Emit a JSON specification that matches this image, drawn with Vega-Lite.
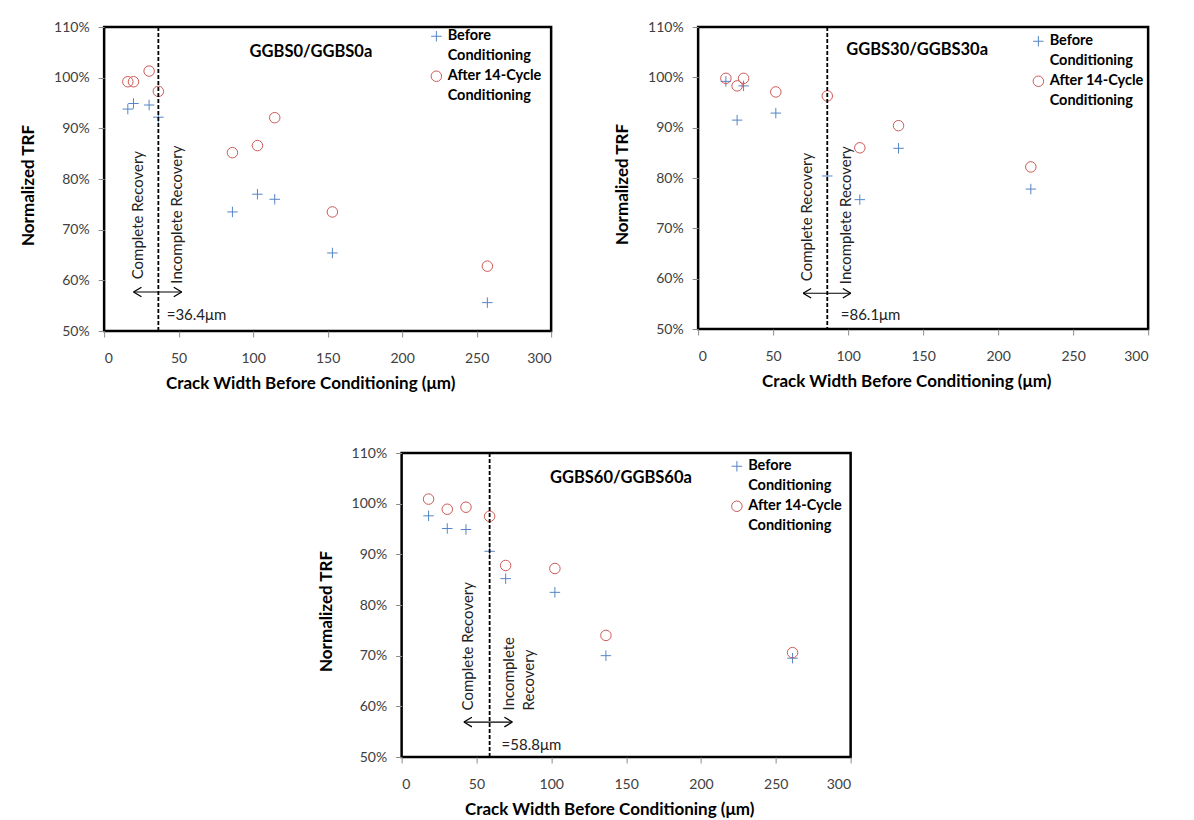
{
  "$schema": "https://vega.github.io/schema/vega-lite/v6.json",
  "padding": {"left": 18, "top": 18, "right": 5, "bottom": 0},
  "datasets": {
    "pts": [
      {"panel": "GGBS0", "series": "Before Conditioning", "w": 15.9, "trf": 0.938},
      {"panel": "GGBS0", "series": "Before Conditioning", "w": 19.7, "trf": 0.949},
      {"panel": "GGBS0", "series": "Before Conditioning", "w": 30.2, "trf": 0.946},
      {"panel": "GGBS0", "series": "Before Conditioning", "w": 36.4, "trf": 0.922},
      {"panel": "GGBS0", "series": "Before Conditioning", "w": 86.1, "trf": 0.735},
      {"panel": "GGBS0", "series": "Before Conditioning", "w": 102.9, "trf": 0.770},
      {"panel": "GGBS0", "series": "Before Conditioning", "w": 114.5, "trf": 0.760},
      {"panel": "GGBS0", "series": "Before Conditioning", "w": 153.2, "trf": 0.654},
      {"panel": "GGBS0", "series": "Before Conditioning", "w": 257.2, "trf": 0.556},
      {"panel": "GGBS0", "series": "After 14-Cycle Conditioning", "w": 15.9, "trf": 0.992},
      {"panel": "GGBS0", "series": "After 14-Cycle Conditioning", "w": 19.7, "trf": 0.992},
      {"panel": "GGBS0", "series": "After 14-Cycle Conditioning", "w": 30.2, "trf": 1.013},
      {"panel": "GGBS0", "series": "After 14-Cycle Conditioning", "w": 36.4, "trf": 0.973},
      {"panel": "GGBS0", "series": "After 14-Cycle Conditioning", "w": 86.1, "trf": 0.852},
      {"panel": "GGBS0", "series": "After 14-Cycle Conditioning", "w": 102.9, "trf": 0.866},
      {"panel": "GGBS0", "series": "After 14-Cycle Conditioning", "w": 114.5, "trf": 0.921},
      {"panel": "GGBS0", "series": "After 14-Cycle Conditioning", "w": 153.2, "trf": 0.735},
      {"panel": "GGBS0", "series": "After 14-Cycle Conditioning", "w": 257.2, "trf": 0.628},
      {"panel": "GGBS30", "series": "Before Conditioning", "w": 18.5, "trf": 0.992},
      {"panel": "GGBS30", "series": "Before Conditioning", "w": 26.0, "trf": 0.915},
      {"panel": "GGBS30", "series": "Before Conditioning", "w": 30.3, "trf": 0.983},
      {"panel": "GGBS30", "series": "Before Conditioning", "w": 51.8, "trf": 0.929},
      {"panel": "GGBS30", "series": "Before Conditioning", "w": 86.1, "trf": 0.804},
      {"panel": "GGBS30", "series": "Before Conditioning", "w": 107.8, "trf": 0.757},
      {"panel": "GGBS30", "series": "Before Conditioning", "w": 133.6, "trf": 0.859},
      {"panel": "GGBS30", "series": "Before Conditioning", "w": 221.8, "trf": 0.778},
      {"panel": "GGBS30", "series": "After 14-Cycle Conditioning", "w": 18.5, "trf": 0.998},
      {"panel": "GGBS30", "series": "After 14-Cycle Conditioning", "w": 26.0, "trf": 0.983},
      {"panel": "GGBS30", "series": "After 14-Cycle Conditioning", "w": 30.3, "trf": 0.998},
      {"panel": "GGBS30", "series": "After 14-Cycle Conditioning", "w": 51.8, "trf": 0.971},
      {"panel": "GGBS30", "series": "After 14-Cycle Conditioning", "w": 86.1, "trf": 0.963},
      {"panel": "GGBS30", "series": "After 14-Cycle Conditioning", "w": 107.8, "trf": 0.860},
      {"panel": "GGBS30", "series": "After 14-Cycle Conditioning", "w": 133.6, "trf": 0.904},
      {"panel": "GGBS30", "series": "After 14-Cycle Conditioning", "w": 221.8, "trf": 0.822},
      {"panel": "GGBS60", "series": "Before Conditioning", "w": 18.0, "trf": 0.976},
      {"panel": "GGBS60", "series": "Before Conditioning", "w": 30.5, "trf": 0.951},
      {"panel": "GGBS60", "series": "Before Conditioning", "w": 43.0, "trf": 0.949},
      {"panel": "GGBS60", "series": "Before Conditioning", "w": 58.8, "trf": 0.906},
      {"panel": "GGBS60", "series": "Before Conditioning", "w": 69.5, "trf": 0.852},
      {"panel": "GGBS60", "series": "Before Conditioning", "w": 102.4, "trf": 0.825},
      {"panel": "GGBS60", "series": "Before Conditioning", "w": 136.5, "trf": 0.700},
      {"panel": "GGBS60", "series": "Before Conditioning", "w": 261.2, "trf": 0.695},
      {"panel": "GGBS60", "series": "After 14-Cycle Conditioning", "w": 18.0, "trf": 1.009},
      {"panel": "GGBS60", "series": "After 14-Cycle Conditioning", "w": 30.5, "trf": 0.989},
      {"panel": "GGBS60", "series": "After 14-Cycle Conditioning", "w": 43.0, "trf": 0.993},
      {"panel": "GGBS60", "series": "After 14-Cycle Conditioning", "w": 58.8, "trf": 0.975},
      {"panel": "GGBS60", "series": "After 14-Cycle Conditioning", "w": 69.5, "trf": 0.878},
      {"panel": "GGBS60", "series": "After 14-Cycle Conditioning", "w": 102.4, "trf": 0.872},
      {"panel": "GGBS60", "series": "After 14-Cycle Conditioning", "w": 136.5, "trf": 0.740},
      {"panel": "GGBS60", "series": "After 14-Cycle Conditioning", "w": 261.2, "trf": 0.706}
    ]
  },
  "vconcat": [
    {
      "hconcat": [
        {
          "width": 447, "height": 304,
          "layer": [
            {
              "data": {"name": "pts"},
              "transform": [{"filter": "datum.panel == 'GGBS0'"}],
              "mark": {"type": "point", "filled": false, "strokeWidth": 1, "size": 110, "opacity": 1},
              "encoding": {
                "x": {"field": "w", "type": "quantitative", "scale": {"domain": [0, 300], "nice": false, "zero": false}, "axis": {"values": [0, 50, 100, 150, 200, 250, 300], "title": "Crack Width Before Conditioning (μm)", "titleX": 206}},
                "y": {"field": "trf", "type": "quantitative", "scale": {"domain": [0.5, 1.1], "nice": false, "zero": false}, "axis": {"values": [0.5, 0.6, 0.7, 0.8, 0.9, 1.0, 1.1], "format": ".0%", "title": "Normalized TRF", "titleY": 158}},
                "color": {"field": "series", "type": "nominal", "scale": {"domain": ["Before Conditioning", "After 14-Cycle Conditioning"], "range": ["#5585C4", "#CC5A57"]}, "legend": {"title": null, "orient": "none", "legendX": 325, "legendY": 2, "labelExpr": "datum.label == 'Before Conditioning' ? ['Before', 'Conditioning'] : ['After 14-Cycle', 'Conditioning']", "encode": {"labels": {"lineHeight": {"value": 19.7}}}}},
                "shape": {"field": "series", "type": "nominal", "scale": {"domain": ["Before Conditioning", "After 14-Cycle Conditioning"], "range": ["M-1,0H1M0,-1V1", "circle"]}, "legend": {"title": null, "orient": "none", "legendX": 325, "legendY": 2, "labelExpr": "datum.label == 'Before Conditioning' ? ['Before', 'Conditioning'] : ['After 14-Cycle', 'Conditioning']", "encode": {"labels": {"lineHeight": {"value": 19.7}}}}}
              }
            },
            {"data": {"values": [{"x": 36.4}]}, "mark": {"type": "rule", "color": "black", "strokeWidth": 1.8, "strokeDash": [4, 2]}, "encoding": {"x": {"field": "x", "type": "quantitative"}}},
            {"data": {"values": [{"x1": 19.7, "x2": 52.1, "y": 0.577}]}, "mark": {"type": "rule", "color": "black", "strokeWidth": 1.2}, "encoding": {"x": {"field": "x1", "type": "quantitative"}, "x2": {"field": "x2"}, "y": {"field": "y", "type": "quantitative"}}},
            {"data": {"values": [{"x": 19.7, "y": 0.577}]}, "mark": {"type": "point", "shape": "M0,0L1,-0.6M0,0L1,0.6", "filled": false, "size": 256, "color": "black", "strokeWidth": 1.3, "opacity": 1}, "encoding": {"x": {"field": "x", "type": "quantitative"}, "y": {"field": "y", "type": "quantitative"}}},
            {"data": {"values": [{"x": 52.1, "y": 0.577}]}, "mark": {"type": "point", "shape": "M0,0L-1,-0.6M0,0L-1,0.6", "filled": false, "size": 256, "color": "black", "strokeWidth": 1.3, "opacity": 1}, "encoding": {"x": {"field": "x", "type": "quantitative"}, "y": {"field": "y", "type": "quantitative"}}},
            {"data": {"values": [{"x": 23.0, "y": 0.602, "t": "Complete Recovery"}, {"x": 49.2, "y": 0.5935, "t": "Incomplete Recovery"}]}, "mark": {"type": "text", "angle": 270, "align": "left", "baseline": "middle", "fontSize": 15, "color": "#222"}, "encoding": {"x": {"field": "x", "type": "quantitative"}, "y": {"field": "y", "type": "quantitative"}, "text": {"field": "t"}}},
            {"data": {"values": [{"x": 42.0, "y": 0.532, "t": "=36.4μm"}]}, "mark": {"type": "text", "align": "left", "baseline": "middle", "fontSize": 15, "color": "#222"}, "encoding": {"x": {"field": "x", "type": "quantitative"}, "y": {"field": "y", "type": "quantitative"}, "text": {"field": "t"}}},
            {"data": {"values": [{"x": 138.8, "y": 1.051, "t": "GGBS0/GGBS0a"}]}, "mark": {"type": "text", "align": "center", "baseline": "middle", "fontSize": 16.5, "fontWeight": "bold", "color": "black"}, "encoding": {"x": {"field": "x", "type": "quantitative"}, "y": {"field": "y", "type": "quantitative"}, "text": {"field": "t"}}}
          ]
        },
        {
          "width": 450, "height": 302,
          "layer": [
            {
              "data": {"name": "pts"},
              "transform": [{"filter": "datum.panel == 'GGBS30'"}],
              "mark": {"type": "point", "filled": false, "strokeWidth": 1, "size": 110, "opacity": 1},
              "encoding": {
                "x": {"field": "w", "type": "quantitative", "scale": {"domain": [0, 300], "nice": false, "zero": false}, "axis": {"values": [0, 50, 100, 150, 200, 250, 300], "title": "Crack Width Before Conditioning (μm)", "titleX": 208}},
                "y": {"field": "trf", "type": "quantitative", "scale": {"domain": [0.5, 1.1], "nice": false, "zero": false}, "axis": {"values": [0.5, 0.6, 0.7, 0.8, 0.9, 1.0, 1.1], "format": ".0%", "title": "Normalized TRF", "titleY": 157}},
                "color": {"field": "series", "type": "nominal", "scale": {"domain": ["Before Conditioning", "After 14-Cycle Conditioning"], "range": ["#5585C4", "#CC5A57"]}, "legend": {"title": null, "orient": "none", "legendX": 333, "legendY": 7, "labelExpr": "datum.label == 'Before Conditioning' ? ['Before', 'Conditioning'] : ['After 14-Cycle', 'Conditioning']", "encode": {"labels": {"lineHeight": {"value": 19.7}}}}},
                "shape": {"field": "series", "type": "nominal", "scale": {"domain": ["Before Conditioning", "After 14-Cycle Conditioning"], "range": ["M-1,0H1M0,-1V1", "circle"]}, "legend": {"title": null, "orient": "none", "legendX": 333, "legendY": 7, "labelExpr": "datum.label == 'Before Conditioning' ? ['Before', 'Conditioning'] : ['After 14-Cycle', 'Conditioning']", "encode": {"labels": {"lineHeight": {"value": 19.7}}}}}
              }
            },
            {"data": {"values": [{"x": 86.1}]}, "mark": {"type": "rule", "color": "black", "strokeWidth": 1.8, "strokeDash": [4, 2]}, "encoding": {"x": {"field": "x", "type": "quantitative"}}},
            {"data": {"values": [{"x1": 70.0, "x2": 101.8, "y": 0.571}]}, "mark": {"type": "rule", "color": "black", "strokeWidth": 1.2}, "encoding": {"x": {"field": "x1", "type": "quantitative"}, "x2": {"field": "x2"}, "y": {"field": "y", "type": "quantitative"}}},
            {"data": {"values": [{"x": 70.0, "y": 0.571}]}, "mark": {"type": "point", "shape": "M0,0L1,-0.6M0,0L1,0.6", "filled": false, "size": 256, "color": "black", "strokeWidth": 1.3, "opacity": 1}, "encoding": {"x": {"field": "x", "type": "quantitative"}, "y": {"field": "y", "type": "quantitative"}}},
            {"data": {"values": [{"x": 101.8, "y": 0.571}]}, "mark": {"type": "point", "shape": "M0,0L-1,-0.6M0,0L-1,0.6", "filled": false, "size": 256, "color": "black", "strokeWidth": 1.3, "opacity": 1}, "encoding": {"x": {"field": "x", "type": "quantitative"}, "y": {"field": "y", "type": "quantitative"}}},
            {"data": {"values": [{"x": 72.9, "y": 0.595, "t": "Complete Recovery"}, {"x": 98.5, "y": 0.589, "t": "Incomplete Recovery"}]}, "mark": {"type": "text", "angle": 270, "align": "left", "baseline": "middle", "fontSize": 15, "color": "#222"}, "encoding": {"x": {"field": "x", "type": "quantitative"}, "y": {"field": "y", "type": "quantitative"}, "text": {"field": "t"}}},
            {"data": {"values": [{"x": 95.1, "y": 0.527, "t": "=86.1μm"}]}, "mark": {"type": "text", "align": "left", "baseline": "middle", "fontSize": 15, "color": "#222"}, "encoding": {"x": {"field": "x", "type": "quantitative"}, "y": {"field": "y", "type": "quantitative"}, "text": {"field": "t"}}},
            {"data": {"values": [{"x": 146.0, "y": 1.054, "t": "GGBS30/GGBS30a"}]}, "mark": {"type": "text", "align": "center", "baseline": "middle", "fontSize": 16.5, "fontWeight": "bold", "color": "black"}, "encoding": {"x": {"field": "x", "type": "quantitative"}, "y": {"field": "y", "type": "quantitative"}, "text": {"field": "t"}}}
          ]
        }
      ],
      "spacing": 59,
      "resolve": {"scale": {"x": "independent", "y": "independent", "color": "independent", "shape": "independent"}, "legend": {"color": "independent", "shape": "independent"}}
    },
    {
      "width": 449, "height": 304,
      "layer": [
        {
          "data": {"name": "pts"},
          "transform": [{"filter": "datum.panel == 'GGBS60'"}],
          "mark": {"type": "point", "filled": false, "strokeWidth": 1, "size": 110, "opacity": 1},
          "encoding": {
            "x": {"field": "w", "type": "quantitative", "scale": {"domain": [0, 300], "nice": false, "zero": false}, "axis": {"values": [0, 50, 100, 150, 200, 250, 300], "title": "Crack Width Before Conditioning (μm)", "titleX": 207.5}},
            "y": {"field": "trf", "type": "quantitative", "scale": {"domain": [0.5, 1.1], "nice": false, "zero": false}, "axis": {"values": [0.5, 0.6, 0.7, 0.8, 0.9, 1.0, 1.1], "format": ".0%", "title": "Normalized TRF", "titleY": 158}},
            "color": {"field": "series", "type": "nominal", "scale": {"domain": ["Before Conditioning", "After 14-Cycle Conditioning"], "range": ["#5585C4", "#CC5A57"]}, "legend": {"title": null, "orient": "none", "legendX": 328, "legendY": 6, "labelExpr": "datum.label == 'Before Conditioning' ? ['Before', 'Conditioning'] : ['After 14-Cycle', 'Conditioning']", "encode": {"labels": {"lineHeight": {"value": 19.7}}}}},
            "shape": {"field": "series", "type": "nominal", "scale": {"domain": ["Before Conditioning", "After 14-Cycle Conditioning"], "range": ["M-1,0H1M0,-1V1", "circle"]}, "legend": {"title": null, "orient": "none", "legendX": 328, "legendY": 6, "labelExpr": "datum.label == 'Before Conditioning' ? ['Before', 'Conditioning'] : ['After 14-Cycle', 'Conditioning']", "encode": {"labels": {"lineHeight": {"value": 19.7}}}}}
          }
        },
        {"data": {"values": [{"x": 58.8}]}, "mark": {"type": "rule", "color": "black", "strokeWidth": 1.8, "strokeDash": [4, 2]}, "encoding": {"x": {"field": "x", "type": "quantitative"}}},
        {"data": {"values": [{"x1": 41.6, "x2": 74.0, "y": 0.569}]}, "mark": {"type": "rule", "color": "black", "strokeWidth": 1.2}, "encoding": {"x": {"field": "x1", "type": "quantitative"}, "x2": {"field": "x2"}, "y": {"field": "y", "type": "quantitative"}}},
        {"data": {"values": [{"x": 41.6, "y": 0.569}]}, "mark": {"type": "point", "shape": "M0,0L1,-0.6M0,0L1,0.6", "filled": false, "size": 256, "color": "black", "strokeWidth": 1.3, "opacity": 1}, "encoding": {"x": {"field": "x", "type": "quantitative"}, "y": {"field": "y", "type": "quantitative"}}},
        {"data": {"values": [{"x": 74.0, "y": 0.569}]}, "mark": {"type": "point", "shape": "M0,0L-1,-0.6M0,0L-1,0.6", "filled": false, "size": 256, "color": "black", "strokeWidth": 1.3, "opacity": 1}, "encoding": {"x": {"field": "x", "type": "quantitative"}, "y": {"field": "y", "type": "quantitative"}}},
        {"data": {"values": [{"x": 44.5, "y": 0.592, "t": "Complete Recovery"}, {"x": 71.9, "y": 0.592, "t": "Incomplete\nRecovery"}]}, "mark": {"type": "text", "angle": 270, "align": "left", "baseline": "middle", "fontSize": 15, "lineBreak": "\n", "lineHeight": 19.5, "color": "#222"}, "encoding": {"x": {"field": "x", "type": "quantitative"}, "y": {"field": "y", "type": "quantitative"}, "text": {"field": "t"}}},
        {"data": {"values": [{"x": 66.8, "y": 0.523, "t": "=58.8μm"}]}, "mark": {"type": "text", "align": "left", "baseline": "middle", "fontSize": 15, "color": "#222"}, "encoding": {"x": {"field": "x", "type": "quantitative"}, "y": {"field": "y", "type": "quantitative"}, "text": {"field": "t"}}},
        {"data": {"values": [{"x": 146.5, "y": 1.05, "t": "GGBS60/GGBS60a"}]}, "mark": {"type": "text", "align": "center", "baseline": "middle", "fontSize": 16.5, "fontWeight": "bold", "color": "black"}, "encoding": {"x": {"field": "x", "type": "quantitative"}, "y": {"field": "y", "type": "quantitative"}, "text": {"field": "t"}}}
      ]
    }
  ],
  "spacing": 51,
  "center": true,
  "resolve": {"scale": {"x": "independent", "y": "independent", "color": "independent", "shape": "independent"}, "legend": {"color": "independent", "shape": "independent"}},
  "config": {
    "font": "Lato",
    "view": {"stroke": "black", "strokeWidth": 2.5},
    "style": {"guide-label": {"lineHeight": 19.7}},
    "axis": {"grid": false, "domain": false, "tickColor": "#8c8c8c", "tickSize": 6, "labelFont": "Lato", "labelFontSize": 14, "labelColor": "#404040", "titleFont": "Lato", "titleFontSize": 17, "titleFontWeight": "bold", "titleColor": "black"},
    "axisX": {"labelPadding": 14, "titlePadding": 10},
    "axisY": {"labelPadding": 9, "titlePadding": 16},
    "legend": {"labelFont": "Lato", "labelFontSize": 14.5, "labelFontWeight": "bold", "labelColor": "black", "labelOffset": 4, "symbolStrokeWidth": 1, "symbolSize": 110, "rowPadding": 5, "padding": 0, "labelLimit": 0, "labelBaseline": "middle"}
  }
}
